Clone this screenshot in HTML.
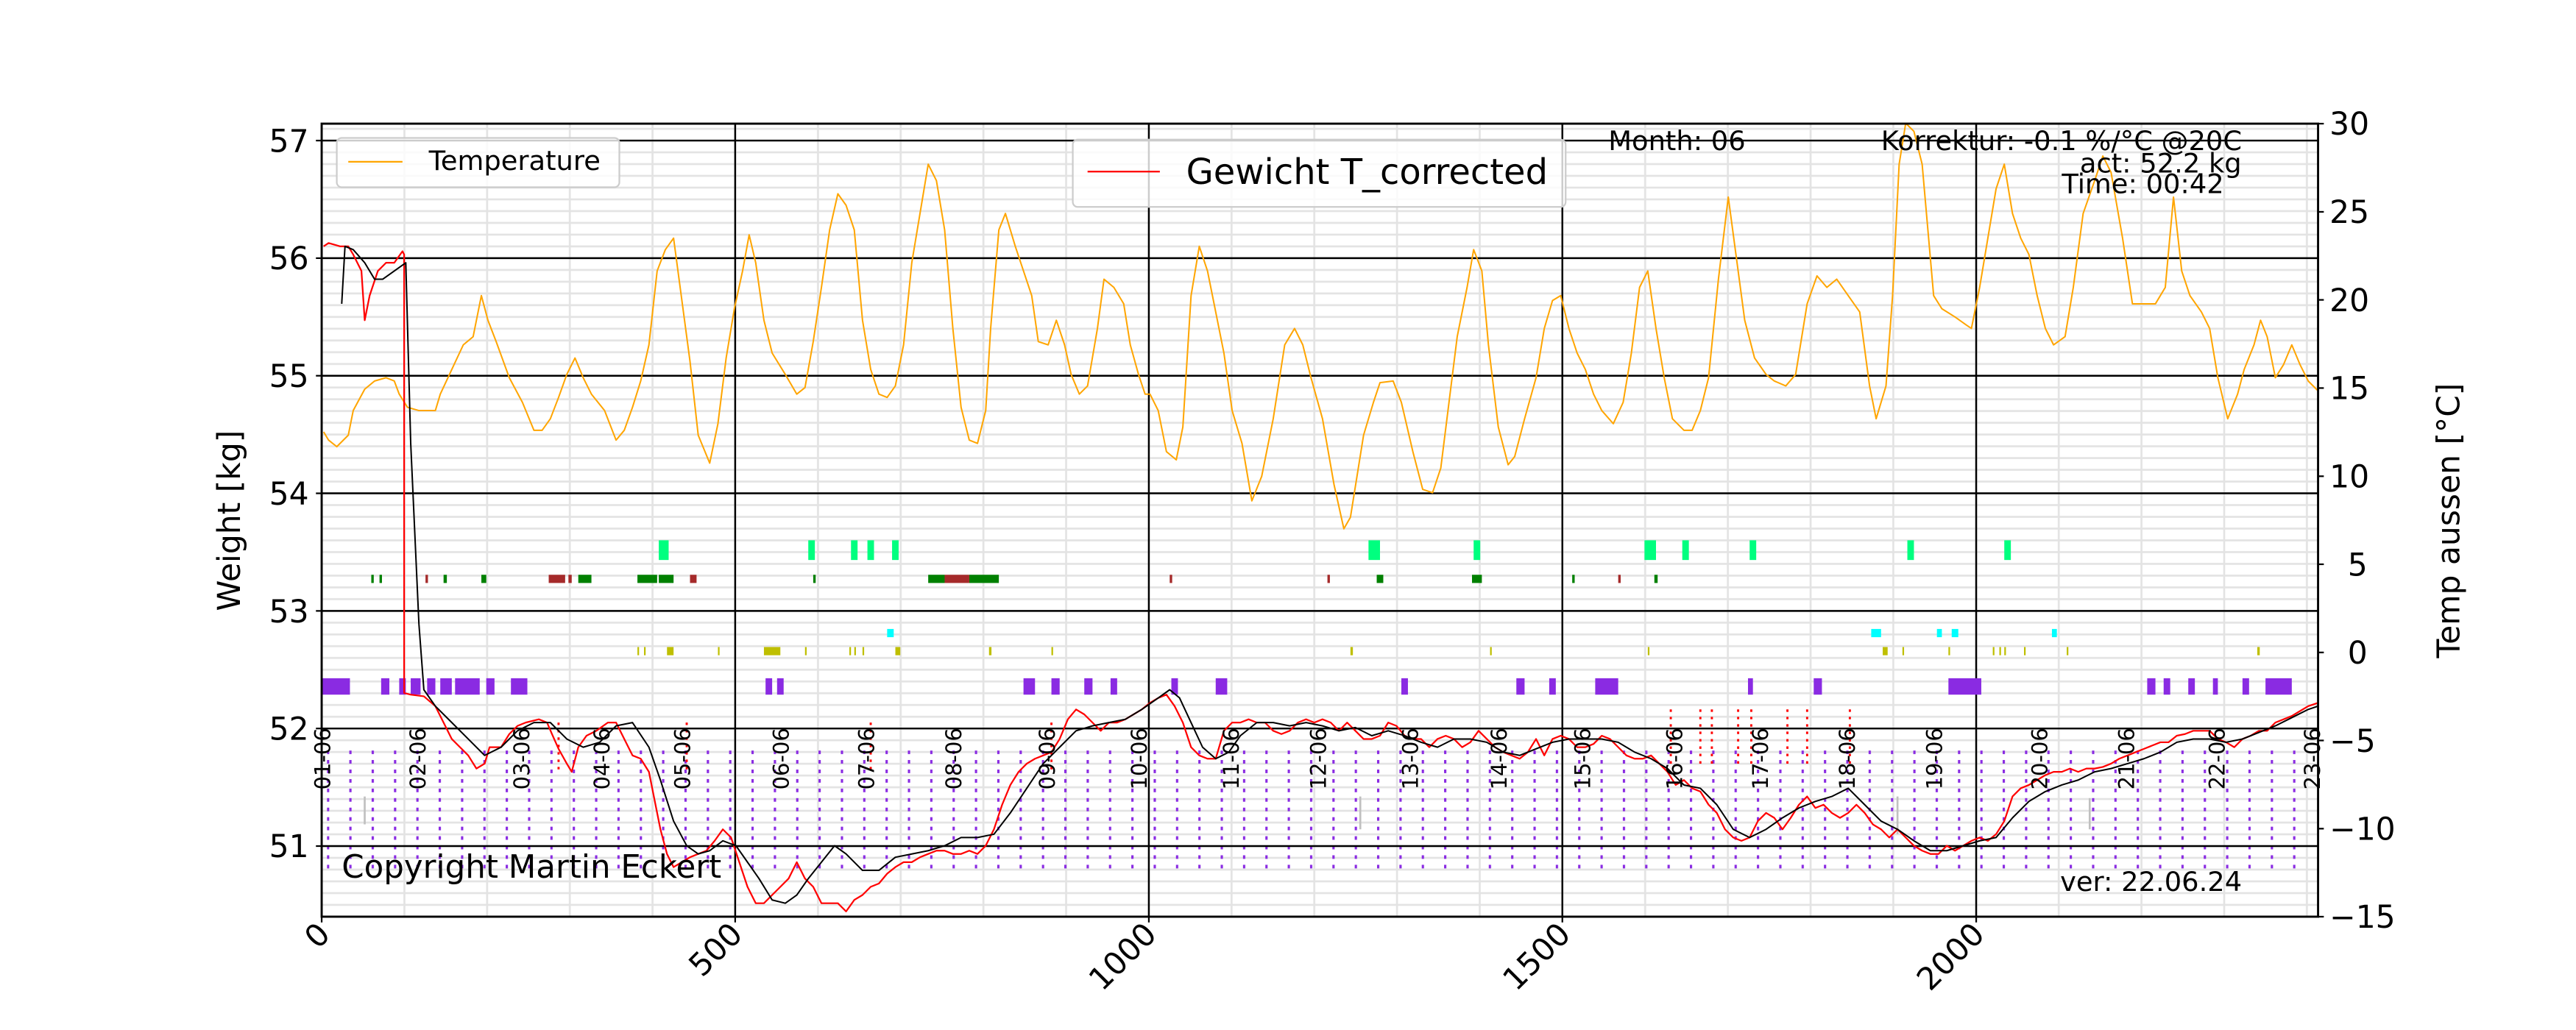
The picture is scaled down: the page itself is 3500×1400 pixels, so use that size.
<!DOCTYPE html>
<html><head><meta charset="utf-8"><style>html,body{margin:0;padding:0;background:#fff}svg{display:block}text{font-family:"DejaVu Sans","Liberation Sans",sans-serif}</style></head><body>
<svg xmlns="http://www.w3.org/2000/svg" width="3500" height="1400" viewBox="0 0 1568 627.2">
<defs>
<pattern id="hg" x="0" y="85.6" width="10" height="7.16" patternUnits="userSpaceOnUse"><rect x="0" y="-0.6" width="10" height="1.2" fill="#e3e3e3"/><rect x="0" y="6.56" width="10" height="1.2" fill="#e3e3e3"/></pattern>
<pattern id="vg" x="195.8" y="0" width="50.35" height="10" patternUnits="userSpaceOnUse"><rect x="-0.6" y="0" width="1.2" height="10" fill="#e3e3e3"/><rect x="49.75" y="0" width="1.2" height="10" fill="#e3e3e3"/></pattern>
<pattern id="pd" x="199" y="457" width="13.6" height="5.8" patternUnits="userSpaceOnUse"><rect x="0" y="0" width="1.4" height="2.2" fill="#8a2be2"/></pattern>
<clipPath id="cp"><rect x="195.8" y="75.3" width="1215.2" height="482.9"/></clipPath>
</defs>
<rect x="195.8" y="75.3" width="1215.2" height="482.9" fill="url(#hg)"/>
<rect x="195.8" y="75.3" width="1215.2" height="482.9" fill="url(#vg)"/>
<rect x="199" y="457" width="1210" height="72" fill="url(#pd)"/>
<g stroke="#000" stroke-width="1.1">
<line x1="195.8" x2="1411" y1="85.6" y2="85.6"/><line x1="195.8" x2="1411" y1="157.2" y2="157.2"/><line x1="195.8" x2="1411" y1="228.8" y2="228.8"/><line x1="195.8" x2="1411" y1="300.4" y2="300.4"/><line x1="195.8" x2="1411" y1="372" y2="372"/><line x1="195.8" x2="1411" y1="443.6" y2="443.6"/><line x1="195.8" x2="1411" y1="515.2" y2="515.2"/>
<line x1="447.5" x2="447.5" y1="75.3" y2="558.2"/><line x1="699.3" x2="699.3" y1="75.3" y2="558.2"/><line x1="951" x2="951" y1="75.3" y2="558.2"/><line x1="1202.9" x2="1202.9" y1="75.3" y2="558.2"/>
</g>
<g clip-path="url(#cp)">
<g fill="#00ff7f"><rect x="401" y="329" width="6" height="12"/><rect x="492" y="329" width="4" height="12"/><rect x="518" y="329" width="4" height="12"/><rect x="528" y="329" width="4" height="12"/><rect x="543" y="329" width="4" height="12"/><rect x="833" y="329" width="7" height="12"/><rect x="897" y="329" width="4" height="12"/><rect x="1001" y="329" width="7" height="12"/><rect x="1024" y="329" width="4" height="12"/><rect x="1065" y="329" width="4" height="12"/><rect x="1161" y="329" width="4" height="12"/><rect x="1220" y="329" width="4" height="12"/></g>
<g fill="#008000"><rect x="226" y="350" width="1.5" height="5"/><rect x="231" y="350" width="1.5" height="5"/><rect x="270" y="350" width="2" height="5"/><rect x="293" y="350" width="3" height="5"/><rect x="352" y="350" width="8" height="5"/><rect x="388" y="350" width="12" height="5"/><rect x="401" y="350" width="9" height="5"/><rect x="495" y="350" width="1.5" height="5"/><rect x="565" y="350" width="10" height="5"/><rect x="590" y="350" width="18" height="5"/><rect x="838" y="350" width="4" height="5"/><rect x="896" y="350" width="6" height="5"/><rect x="957" y="350" width="1.5" height="5"/><rect x="1007" y="350" width="2" height="5"/></g>
<g fill="#a52a2a"><rect x="259" y="350" width="1.5" height="5"/><rect x="334" y="350" width="10" height="5"/><rect x="346" y="350" width="2" height="5"/><rect x="420" y="350" width="4" height="5"/><rect x="575" y="350" width="15" height="5"/><rect x="712" y="350" width="1.5" height="5"/><rect x="808" y="350" width="1.5" height="5"/><rect x="985" y="350" width="1.5" height="5"/></g>
<g fill="#00ffff"><rect x="540" y="383" width="4" height="5"/><rect x="1139" y="383" width="6" height="5"/><rect x="1179" y="383" width="3" height="5"/><rect x="1188" y="383" width="4" height="5"/><rect x="1249" y="383" width="3" height="5"/></g>
<g fill="#bfbf00"><rect x="388" y="394" width="1" height="5"/><rect x="392" y="394" width="1" height="5"/><rect x="406" y="394" width="4" height="5"/><rect x="437" y="394" width="1" height="5"/><rect x="465" y="394" width="10" height="5"/><rect x="490" y="394" width="1" height="5"/><rect x="517" y="394" width="1" height="5"/><rect x="520" y="394" width="1" height="5"/><rect x="525" y="394" width="1" height="5"/><rect x="545" y="394" width="3" height="5"/><rect x="602" y="394" width="1.5" height="5"/><rect x="640" y="394" width="1" height="5"/><rect x="822" y="394" width="1.5" height="5"/><rect x="907" y="394" width="1" height="5"/><rect x="1003" y="394" width="1" height="5"/><rect x="1146" y="394" width="3" height="5"/><rect x="1158" y="394" width="1" height="5"/><rect x="1186" y="394" width="1" height="5"/><rect x="1213" y="394" width="1" height="5"/><rect x="1217" y="394" width="1" height="5"/><rect x="1220" y="394" width="1" height="5"/><rect x="1232" y="394" width="1" height="5"/><rect x="1258" y="394" width="1" height="5"/><rect x="1374" y="394" width="1.5" height="5"/></g>
<g fill="#8a2be2"><rect x="196" y="413" width="17" height="10"/><rect x="232" y="413" width="5" height="10"/><rect x="243" y="413" width="4" height="10"/><rect x="250" y="413" width="6" height="10"/><rect x="260" y="413" width="5" height="10"/><rect x="268" y="413" width="7" height="10"/><rect x="277" y="413" width="15" height="10"/><rect x="296" y="413" width="5" height="10"/><rect x="311" y="413" width="10" height="10"/><rect x="466" y="413" width="4" height="10"/><rect x="473" y="413" width="4" height="10"/><rect x="623" y="413" width="7" height="10"/><rect x="640" y="413" width="5" height="10"/><rect x="660" y="413" width="5" height="10"/><rect x="676" y="413" width="4" height="10"/><rect x="713" y="413" width="4" height="10"/><rect x="740" y="413" width="7" height="10"/><rect x="853" y="413" width="4" height="10"/><rect x="923" y="413" width="5" height="10"/><rect x="943" y="413" width="4" height="10"/><rect x="971" y="413" width="14" height="10"/><rect x="1064" y="413" width="3" height="10"/><rect x="1104" y="413" width="5" height="10"/><rect x="1186" y="413" width="20" height="10"/><rect x="1307" y="413" width="5" height="10"/><rect x="1317" y="413" width="4" height="10"/><rect x="1332" y="413" width="4" height="10"/><rect x="1347" y="413" width="3" height="10"/><rect x="1365" y="413" width="4" height="10"/><rect x="1379" y="413" width="16" height="10"/></g>
<g stroke="#ff0000" stroke-width="1.3" stroke-dasharray="1.5 3" fill="none"><line x1="418" x2="418" y1="440" y2="470"/><line x1="640" x2="640" y1="440" y2="470"/><line x1="1017" x2="1017" y1="432" y2="468"/><line x1="1035" x2="1035" y1="432" y2="468"/><line x1="1042" x2="1042" y1="432" y2="468"/><line x1="1058" x2="1058" y1="432" y2="468"/><line x1="1066" x2="1066" y1="432" y2="468"/><line x1="1088" x2="1088" y1="432" y2="468"/><line x1="1100" x2="1100" y1="432" y2="468"/><line x1="1126" x2="1126" y1="432" y2="468"/><line x1="530" x2="530" y1="440" y2="470"/><line x1="340" x2="340" y1="440" y2="470"/></g>
<g stroke="#c0c0c0" stroke-width="1.2"><line x1="222" x2="222" y1="485" y2="502"/><line x1="828" x2="828" y1="485" y2="505"/><line x1="1155" x2="1155" y1="485" y2="508"/><line x1="1272" x2="1272" y1="486" y2="505"/></g>
<polyline fill="none" stroke="#ffa500" stroke-width="0.9" stroke-linejoin="round" points="197,263 200,268 205,272 212,265 215,250 222,237 228,232 235,230 240,232 243,240 248,248 255,250 265,250 268,240 275,225 282,210 288,205 293,180 297,195 302,208 310,230 318,245 325,262 330,262 335,255 340,242 345,228 350,218 355,230 360,240 368,250 375,268 380,262 385,248 390,232 395,210 400,165 405,152 410,145 414,175 420,220 425,265 432,282 437,258 442,218 447,188 452,165 456,143 460,160 465,195 470,215 478,228 485,240 490,236 495,208 500,175 505,140 510,118 515,125 520,140 525,195 530,225 535,240 540,242 545,235 550,210 555,160 560,130 565,100 570,110 575,140 580,200 585,248 590,268 595,270 600,250 603,200 608,140 612,130 618,150 623,165 628,180 632,208 638,210 643,195 648,210 652,228 657,240 662,235 668,200 672,170 678,175 684,185 688,210 693,228 697,240 700,240 705,250 710,275 716,280 720,260 725,180 730,150 735,165 740,190 745,215 750,250 756,270 762,305 768,290 775,255 782,210 788,200 793,210 798,230 805,255 812,295 818,322 822,315 826,290 830,265 836,245 840,233 848,232 853,245 860,275 866,298 872,300 877,285 882,245 887,205 893,175 897,152 902,165 906,210 912,260 918,283 922,278 928,255 935,230 940,200 945,183 950,180 955,200 960,215 965,225 970,240 975,250 982,258 988,245 993,215 998,175 1003,165 1008,200 1013,230 1018,255 1025,262 1030,262 1035,250 1040,230 1046,170 1052,120 1056,150 1062,195 1068,218 1075,228 1080,232 1087,235 1093,228 1100,185 1106,168 1112,175 1118,170 1125,180 1132,190 1138,235 1142,255 1148,235 1152,180 1156,100 1160,75 1165,80 1170,100 1177,180 1182,188 1190,193 1197,198 1200,200 1205,175 1210,145 1215,115 1220,100 1225,130 1230,145 1235,155 1240,180 1245,200 1250,210 1257,205 1262,175 1268,130 1275,110 1280,95 1285,105 1292,145 1298,185 1305,185 1312,185 1318,175 1323,120 1328,165 1333,180 1340,190 1345,200 1350,230 1356,255 1362,240 1366,225 1372,210 1376,195 1380,205 1385,230 1390,222 1395,210 1400,222 1405,232 1411,238"/>
<polyline fill="none" stroke="#ff0000" stroke-width="1" stroke-linejoin="round" points="197,150 200,148 207,150 212,150 215,155 220,165 222,195 225,180 230,165 235,160 240,160 245,153 246,155 246,422 250,423 258,424 265,430 270,440 275,450 280,455 285,460 290,468 295,465 298,455 305,455 310,447 315,442 320,440 328,438 333,440 336,447 340,456 345,465 348,470 352,455 357,448 363,445 370,440 375,440 380,450 385,460 390,462 395,470 398,485 402,505 406,520 410,528 415,525 420,522 425,520 430,518 435,512 440,505 445,510 450,525 455,540 460,550 465,550 470,545 475,540 480,535 485,525 490,535 495,540 500,550 505,550 510,550 515,555 520,548 525,545 530,540 535,538 540,532 545,528 550,525 555,525 560,522 565,520 570,518 575,518 580,520 585,520 590,518 595,520 600,515 605,505 610,490 615,478 620,470 625,465 630,462 635,460 640,458 645,450 650,438 655,432 660,435 665,440 670,445 675,440 680,440 685,438 690,435 695,432 700,428 705,425 710,423 715,430 720,440 725,455 730,460 735,462 740,462 745,445 750,440 755,440 760,438 765,440 770,440 775,445 780,447 785,445 790,440 795,438 800,440 805,438 810,440 815,445 820,440 825,445 830,450 835,450 840,448 845,440 850,442 855,448 860,450 865,450 870,455 875,450 880,448 885,450 890,455 895,452 900,445 905,450 910,455 915,458 920,460 925,462 930,458 935,450 940,460 945,450 950,448 955,450 960,455 965,455 970,453 975,448 980,450 985,455 990,460 995,462 1000,462 1005,460 1010,465 1015,470 1020,478 1025,475 1030,480 1035,482 1040,490 1045,495 1050,505 1055,510 1060,512 1065,510 1070,500 1075,495 1080,498 1085,505 1090,498 1095,490 1100,485 1105,492 1110,490 1115,495 1120,498 1125,495 1130,490 1135,495 1140,502 1145,505 1150,510 1155,505 1160,510 1165,515 1170,518 1175,520 1180,520 1185,515 1190,518 1195,515 1200,512 1205,510 1210,512 1215,508 1220,500 1225,485 1230,480 1235,478 1240,475 1245,472 1250,470 1255,470 1260,468 1265,470 1270,468 1275,468 1280,467 1285,465 1290,462 1295,460 1300,458 1305,456 1310,454 1315,452 1320,452 1325,448 1330,447 1335,445 1340,445 1345,445 1350,450 1355,452 1360,455 1365,450 1370,448 1375,445 1380,445 1385,440 1390,438 1395,436 1400,433 1405,430 1411,428"/>
<polyline fill="none" stroke="#000" stroke-width="0.9" stroke-linejoin="round" points="208,185 210,150 215,152 222,160 228,170 233,170 240,165 247,160 250,270 255,380 258,420 265,430 275,440 285,450 295,460 305,455 315,445 325,440 335,440 345,450 355,455 365,452 375,442 385,440 395,455 402,475 410,500 418,515 425,520 432,518 440,512 448,515 455,525 462,535 470,548 478,550 485,545 492,535 500,525 508,515 515,520 525,530 535,530 545,522 555,520 565,518 575,515 585,510 595,510 605,508 615,495 625,480 635,465 645,455 655,445 665,442 675,440 685,438 695,432 705,425 712,420 718,425 725,440 732,455 740,462 748,458 755,448 765,440 775,440 785,442 795,440 805,442 815,445 825,443 835,448 845,445 855,448 865,452 875,455 885,450 895,450 905,452 915,458 925,460 935,456 945,452 955,450 965,450 975,450 985,452 995,458 1005,462 1015,468 1025,478 1035,480 1045,490 1055,505 1065,510 1075,505 1085,498 1095,492 1105,488 1115,485 1125,480 1135,490 1145,500 1155,505 1165,512 1175,518 1185,518 1195,515 1205,512 1215,510 1225,498 1235,488 1245,482 1255,478 1265,475 1275,470 1285,468 1295,465 1305,462 1315,458 1325,452 1335,450 1345,450 1355,452 1365,450 1375,446 1385,442 1395,437 1405,432 1411,430"/>
</g>
<g font-size="13" fill="#000" text-anchor="middle">
<text transform="translate(201,462) rotate(-90)">01-06</text><text transform="translate(259,462) rotate(-90)">02-06</text><text transform="translate(322,462) rotate(-90)">03-06</text><text transform="translate(371,462) rotate(-90)">04-06</text><text transform="translate(420,462) rotate(-90)">05-06</text><text transform="translate(480,462) rotate(-90)">06-06</text><text transform="translate(532,462) rotate(-90)">07-06</text><text transform="translate(585,462) rotate(-90)">08-06</text><text transform="translate(642,462) rotate(-90)">09-06</text><text transform="translate(698,462) rotate(-90)">10-06</text><text transform="translate(754,462) rotate(-90)">11-06</text><text transform="translate(807,462) rotate(-90)">12-06</text><text transform="translate(863,462) rotate(-90)">13-06</text><text transform="translate(917,462) rotate(-90)">14-06</text><text transform="translate(968,462) rotate(-90)">15-06</text><text transform="translate(1024,462) rotate(-90)">16-06</text><text transform="translate(1076,462) rotate(-90)">17-06</text><text transform="translate(1129,462) rotate(-90)">18-06</text><text transform="translate(1182,462) rotate(-90)">19-06</text><text transform="translate(1246,462) rotate(-90)">20-06</text><text transform="translate(1299,462) rotate(-90)">21-06</text><text transform="translate(1354,462) rotate(-90)">22-06</text><text transform="translate(1412,462) rotate(-90)">23-06</text>
</g>
<rect x="195.8" y="75.3" width="1215.2" height="482.9" fill="none" stroke="#000" stroke-width="1.3"/>
<g stroke="#000" stroke-width="1">
<line x1="192.3" x2="195.8" y1="85.6" y2="85.6"/><line x1="192.3" x2="195.8" y1="157.2" y2="157.2"/><line x1="192.3" x2="195.8" y1="228.8" y2="228.8"/><line x1="192.3" x2="195.8" y1="300.4" y2="300.4"/><line x1="192.3" x2="195.8" y1="372" y2="372"/><line x1="192.3" x2="195.8" y1="443.6" y2="443.6"/><line x1="192.3" x2="195.8" y1="515.2" y2="515.2"/>
<line x1="1411" x2="1414.5" y1="75.3" y2="75.3"/><line x1="1411" x2="1414.5" y1="129" y2="129"/><line x1="1411" x2="1414.5" y1="182.6" y2="182.6"/><line x1="1411" x2="1414.5" y1="236.3" y2="236.3"/><line x1="1411" x2="1414.5" y1="290" y2="290"/><line x1="1411" x2="1414.5" y1="343.6" y2="343.6"/><line x1="1411" x2="1414.5" y1="397.3" y2="397.3"/><line x1="1411" x2="1414.5" y1="450.9" y2="450.9"/><line x1="1411" x2="1414.5" y1="504.6" y2="504.6"/><line x1="1411" x2="1414.5" y1="558.2" y2="558.2"/>
<line x1="195.8" x2="195.8" y1="558.2" y2="561.7"/><line x1="447.5" x2="447.5" y1="558.2" y2="561.7"/><line x1="699.3" x2="699.3" y1="558.2" y2="561.7"/><line x1="951" x2="951" y1="558.2" y2="561.7"/><line x1="1202.9" x2="1202.9" y1="558.2" y2="561.7"/>
</g>
<g font-size="19" fill="#000" text-anchor="end">
<text x="188" y="92.5">57</text><text x="188" y="164">56</text><text x="188" y="235.7">55</text><text x="188" y="307.3">54</text><text x="188" y="379">53</text><text x="188" y="450.5">52</text><text x="188" y="522">51</text>
</g>
<g font-size="19" fill="#000" text-anchor="start">
<text x="1418" y="82">30</text><text x="1418" y="135.8">25</text><text x="1418" y="189.5">20</text><text x="1418" y="243">15</text><text x="1418" y="296.8">10</text><text x="1429" y="350.5">5</text><text x="1429" y="404">0</text><text x="1418" y="457.8">−5</text><text x="1418" y="511.5">−10</text><text x="1418" y="565">−15</text>
</g>
<g font-size="19" fill="#000" text-anchor="end">
<text transform="translate(202,570) rotate(-45)">0</text><text transform="translate(453,570) rotate(-45)">500</text><text transform="translate(705,570) rotate(-45)">1000</text><text transform="translate(957,570) rotate(-45)">1500</text><text transform="translate(1209,570) rotate(-45)">2000</text>
</g>
<text transform="translate(146,317) rotate(-90)" font-size="19" text-anchor="middle">Weight [kg]</text>
<text transform="translate(1497,317) rotate(-90)" font-size="19" text-anchor="middle">Temp aussen [°C]</text>
<rect x="205" y="84" width="172" height="30" rx="3" fill="#fff" fill-opacity="0.8" stroke="#ccc" stroke-width="1"/>
<line x1="212" x2="245" y1="98.5" y2="98.5" stroke="#ffa500" stroke-width="1"/>
<text x="261" y="103.5" font-size="16.5">Temperature</text>
<rect x="653" y="85" width="300" height="41" rx="3" fill="#fff" fill-opacity="0.8" stroke="#ccc" stroke-width="1"/>
<line x1="662" x2="706" y1="104.5" y2="104.5" stroke="#ff0000" stroke-width="1"/>
<text x="722" y="112" font-size="21.5">Gewicht T_corrected</text>
<g font-size="16.5" fill="#000">
<text x="979" y="91.5">Month: 06</text>
<text x="1145" y="91.5">Korrektur: -0.1 %/°C @20C</text>
<text x="1266" y="105">act: 52.2 kg</text>
<text x="1255" y="117.5">Time: 00:42</text>
<text x="1254" y="542.5">ver: 22.06.24</text>
<text x="208" y="534.5" font-size="19.5">Copyright Martin Eckert</text>
</g>
</svg>
</body></html>
